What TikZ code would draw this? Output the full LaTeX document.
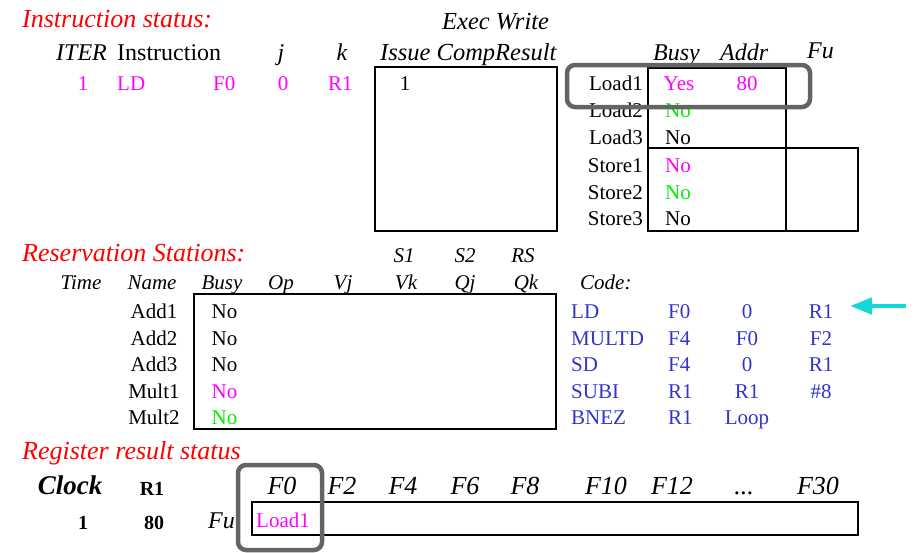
\documentclass[tikz,border=0pt]{standalone}
\usepackage{fontspec}
\setmainfont{Liberation Serif}
\usetikzlibrary{arrows.meta}
\definecolor{mag}{RGB}{255,0,255}
\definecolor{grn}{RGB}{0,240,0}
\definecolor{hred}{RGB}{255,0,0}
\definecolor{codeblue}{RGB}{51,51,204}
\definecolor{arrowcyan}{RGB}{20,215,215}
\definecolor{hlgray}{RGB}{100,100,100}
\newcommand\fsz[1]{\fontsize{#1}{#1}\selectfont}
\tikzset{
  t/.style={inner sep=0pt, anchor=base, font=\fsz{21}},
  tw/.style={t, anchor=base west},
  te/.style={t, anchor=base east},
  hd/.style={inner sep=0pt, anchor=base, font=\fsz{24}\itshape},
  hdw/.style={hd, anchor=base west},
  rs/.style={inner sep=0pt, anchor=base, font=\fsz{21}\itshape},
  title/.style={inner sep=0pt, anchor=base west, font=\fsz{26}\itshape, text=hred},
  code/.style={inner sep=0pt, anchor=base, font=\fsz{21}, text=codeblue},
  codew/.style={code, anchor=base west},
  reghd/.style={inner sep=0pt, anchor=base, font=\fsz{26}\itshape},
  regb/.style={inner sep=0pt, anchor=base, font=\fsz{20}\bfseries},
  boxn/.style={draw=black, line width=2.5pt, inner sep=0pt, outer sep=0pt},
  hl/.style={draw=hlgray, line width=4.5pt, rounded corners=8pt, inner sep=0pt},
  cyanarrow/.style={draw=arrowcyan, line width=4.5pt, -{Triangle[length=22pt,width=16pt]}}
}
\begin{document}
\begin{tikzpicture}[x=1pt,y=-1pt]
\useasboundingbox (0,0) rectangle (919,552);

% ---------- Instruction status ----------
\node[title] (tinst) at (22,27) {Instruction status:};
\node[hdw, font=\fsz{24.5}\itshape] (hexec) at (442,29) {Exec Write};
\node[hdw] (hiter) at (56,60) {ITER};
\node[tw, font=\fsz{24}] (hinstr) at (117,60) {Instruction};
\node[hd] (hj) at (281,60) {j};
\node[hd] (hk) at (342,60) {k};
\node[hdw, font=\fsz{24.5}\itshape] (hissue) at (380,60) {Issue CompResult};
\node[hdw] (hbusy) at (653,60) {Busy};
\node[hdw] (haddr) at (720,60) {Addr};
\node[hdw] (hfu) at (807,58) {Fu};

\node[boxn, minimum width=182pt, minimum height=164pt] (instbox) at (466,149) {};
\node[t, text=mag] (iter1) at (83,90) {1};
\node[tw, text=mag] (ild) at (117,90) {LD};
\node[tw, text=mag] (if0) at (213,90) {F0};
\node[t, text=mag] (izero) at (283,90) {0};
\node[tw, text=mag] (ir1) at (328,90) {R1};
\node[t] (iissue) at (405,90) {1};

% load / store buffers
\node[boxn, minimum width=138pt, minimum height=163pt] (loadbox) at (717,149.5) {};
\node[boxn, minimum width=72pt, minimum height=83pt] (storefu) at (822,189.5) {};
\draw[line width=2.5pt] (loadbox.west |- storefu.north) -- (storefu.north west);

\node[te] (nl1) at (643,90) {Load1};
\node[te] (nl2) at (643,117) {Load2};
\node[te] (nl3) at (643,144) {Load3};
\node[te] (ns1) at (643,172) {Store1};
\node[te] (ns2) at (643,199) {Store2};
\node[te] (ns3) at (643,225) {Store3};
\node[t, text=mag] (bl1) at (679,90) {Yes};
\node[t, text=mag] (al1) at (747,90) {80};
\node[t, text=grn] (bl2) at (678,117) {No};
\node[t] (bl3) at (678,144) {No};
\node[t, text=mag] (bs1) at (678,172) {No};
\node[t, text=grn] (bs2) at (678,199) {No};
\node[t] (bs3) at (678,225) {No};

% ---------- Reservation stations ----------
\node[title] (tres) at (22,261) {Reservation Stations:};
\node[rs] (hs1) at (404,262) {S1};
\node[rs] (hs2) at (465,262) {S2};
\node[rs] (hrs) at (523,262) {RS};
\node[rs] (htime) at (81,289) {Time};
\node[rs] (hname) at (152,289) {Name};
\node[rs] (hrbusy) at (222,289) {Busy};
\node[rs] (hop) at (281,289) {Op};
\node[rs] (hvj) at (343,289) {Vj};
\node[rs] (hvk) at (406,289) {Vk};
\node[rs] (hqj) at (465,289) {Qj};
\node[rs] (hqk) at (526,289) {Qk};
\node[inner sep=0pt, anchor=base west, font=\fsz{21}\itshape] (hcode) at (580,289) {Code:};

\node[boxn, minimum width=362pt, minimum height=135pt] (rsbox) at (375,361.5) {};
\node[t] (ra1) at (154,318) {Add1};
\node[t] (ra2) at (154,345) {Add2};
\node[t] (ra3) at (154,371) {Add3};
\node[t] (rm1) at (154,398) {Mult1};
\node[t] (rm2) at (154,424) {Mult2};
\node[t] (rb1) at (224.5,318) {No};
\node[t] (rb2) at (224.5,345) {No};
\node[t] (rb3) at (224.5,371) {No};
\node[t, text=mag] (rb4) at (224.5,398) {No};
\node[t, text=grn] (rb5) at (224.5,424) {No};

% code
\node[codew] (c1a) at (571,318) {LD};
\node[codew] (c1b) at (668,318) {F0};
\node[code] (c1c) at (747,318) {0};
\node[code] (c1d) at (821,318) {R1};
\node[codew] (c2a) at (571,345) {MULTD};
\node[codew] (c2b) at (668,345) {F4};
\node[code] (c2c) at (747,345) {F0};
\node[code] (c2d) at (821,345) {F2};
\node[codew] (c3a) at (571,371) {SD};
\node[codew] (c3b) at (668,371) {F4};
\node[code] (c3c) at (747,371) {0};
\node[code] (c3d) at (821,371) {R1};
\node[codew] (c4a) at (571,398) {SUBI};
\node[codew] (c4b) at (668,398) {R1};
\node[code] (c4c) at (747,398) {R1};
\node[code] (c4d) at (821,398) {\#8};
\node[codew] (c5a) at (571,424) {BNEZ};
\node[codew] (c5b) at (668,424) {R1};
\node[code] (c5c) at (747,424) {Loop};

\coordinate (arrtail) at (906,306);
\coordinate (arrtip) at (850,306);
\draw[cyanarrow] (arrtail) -- (arrtip);

% ---------- Register result status ----------
\node[title] (treg) at (22,459) {Register result status};
\node[inner sep=0pt, anchor=base, font=\fsz{27}\bfseries\itshape] (hclock) at (70,494) {Clock};
\node[regb] (hr1) at (152,495) {R1};
\node[regb] (vclock) at (83,529) {1};
\node[regb] (vr1) at (154,529) {80};
\node[inner sep=0pt, anchor=base west, font=\fsz{24}\itshape] (hregfu) at (208,528) {Fu};
\node[reghd] (rf0) at (282,494) {F0};
\node[reghd] (rf2) at (342,494) {F2};
\node[reghd] (rf4) at (403,494) {F4};
\node[reghd] (rf6) at (465,494) {F6};
\node[reghd] (rf8) at (525,494) {F8};
\node[reghd] (rf10) at (606,494) {F10};
\node[reghd] (rf12) at (672,494) {F12};
\node[reghd] (rfdots) at (744,494) {...};
\node[reghd] (rf30) at (818,494) {F30};
\node[boxn, minimum width=606pt, minimum height=33pt] (regbox) at (555,518.5) {};
\node[inner sep=0pt, anchor=base west, font=\fsz{21}, text=mag] (regl1) at (256,527) {Load1};

% highlight boxes
\node[hl, minimum width=243pt, minimum height=42pt] (hlload) at (688.5,86) {};
\node[hl, minimum width=84pt, minimum height=85pt] (hlf0) at (280,507.5) {};
\end{tikzpicture}
\end{document}
